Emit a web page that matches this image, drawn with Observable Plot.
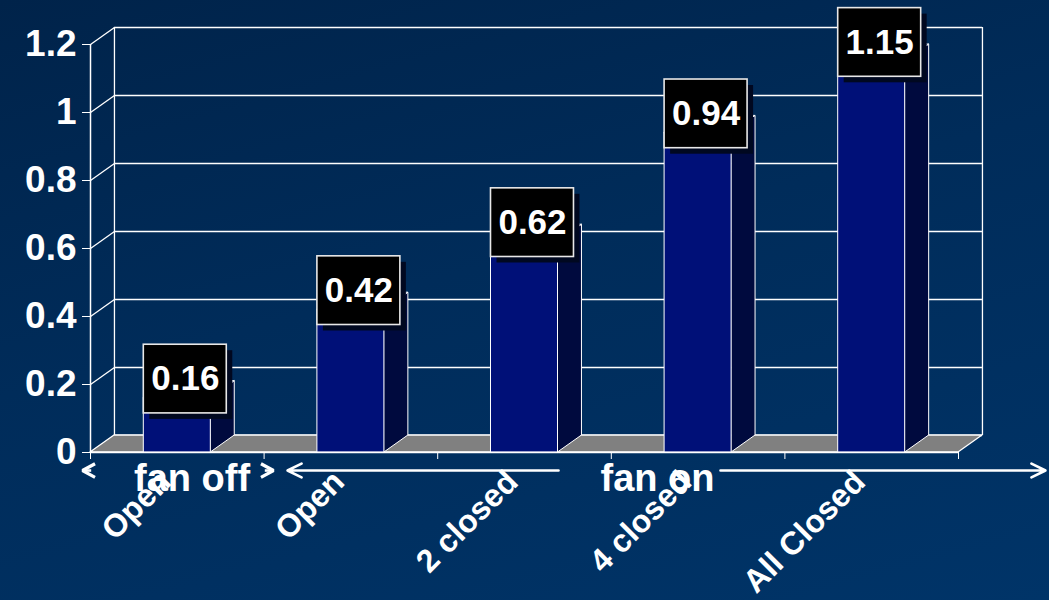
<!DOCTYPE html>
<html>
<head>
<meta charset="utf-8">
<script src="https://cdn.jsdelivr.net/npm/d3@7"></script>
<script src="https://cdn.jsdelivr.net/npm/@observablehq/plot@0.6"></script>
<style>
  html, body { margin: 0; padding: 0; }
  body {
    width: 1049px; height: 600px; overflow: hidden;
    background: linear-gradient(165deg, #00234a 0%, #002c5a 45%, #003468 100%);
    font-family: "Liberation Sans", Arial, sans-serif;
  }
</style>
</head>
<body>
<div id="chart"></div>
<script>
// Air flow measurements: fan off vs. fan on with vents progressively closed
const categories = ["Open", "Open", "2 closed", "4 closed", "All Closed"];
const values = [0.16, 0.42, 0.62, 0.94, 1.15];
const yTicks = [0, 0.2, 0.4, 0.6, 0.8, 1, 1.2];
const groupLabels = ["fan off", "fan on"];

// 3D extrusion, expressed in data units (one category = 1 on x)
const DEPTH_X = 0.138;
const DEPTH_Y = 0.05;
const HALF = 0.193;           // half bar width
const N = categories.length;

const bars = categories.map((c, i) => ({i, category: c, value: values[i], cx: i + 0.5}));

const sidePts = bars.flatMap(b => [
  {i: b.i, x: b.cx + HALF, y1: 0, y2: b.value},
  {i: b.i, x: b.cx + HALF + DEPTH_X, y1: DEPTH_Y, y2: b.value + DEPTH_Y}
]);
const topPts = bars.flatMap(b => [
  {i: b.i, y: b.value, x1: b.cx - HALF, x2: b.cx + HALF},
  {i: b.i, y: b.value + DEPTH_Y, x1: b.cx - HALF + DEPTH_X, x2: b.cx + HALF + DEPTH_X}
]);
const floorPts = [
  {y: 0, x1: 0, x2: N},
  {y: DEPTH_Y, x1: DEPTH_X, x2: N + DEPTH_X}
];

// value call-outs sit just above the bar tops
const LABEL_DX = 0.046, LABEL_DY = 0.056, BOX_HW = 0.239, BOX_HH = 0.101;
const boxes = bars.map(b => ({
  ...b,
  bx: b.cx + LABEL_DX, by: b.value + LABEL_DY
}));

// grouping markers under the axis: short arrowheads around "fan off",
// a two-part arrow around "fan on"
const ARROW_Y = -0.053;
const CHEV_W = 0.072, CHEV_H = 0.02, STEM = 0.05;
const chevrons = [
  {id: "a", tip: -0.046, dir: 1},
  {id: "b", tip: 1.054, dir: -1}
];
const chevronPts = chevrons.flatMap(c => [
  {id: c.id, x: c.tip + c.dir * CHEV_W, y: ARROW_Y + CHEV_H},
  {id: c.id, x: c.tip, y: ARROW_Y},
  {id: c.id, x: c.tip + c.dir * CHEV_W, y: ARROW_Y - CHEV_H}
]);
const fanOnArrows = [
  {x1: 2.696, x2: 1.135},
  {x1: 3.629, x2: 5.501}
];
const groups = [
  {label: groupLabels[0], x: 0.585},
  {label: groupLabels[1], x: 3.266}
];

const white = "#ffffff";

const chart = Plot.plot({
  width: 1049,
  height: 600,
  marginLeft: 90,
  marginRight: 91,
  marginTop: 44,
  marginBottom: 148,
  style: {background: "transparent", color: white, fontFamily: "'Liberation Sans', Arial, sans-serif", fontWeight: "bold", overflow: "visible"},
  x: {type: "linear", domain: [0, N], axis: null},
  y: {domain: [0, 1.2], axis: null},
  marks: [
    // back wall grid
    Plot.ruleY(yTicks, {y: d => d + DEPTH_Y, x1: DEPTH_X, x2: N + DEPTH_X, stroke: white, strokeWidth: 1.3}),
    Plot.ruleX([DEPTH_X, N + DEPTH_X], {x: d => d, y1: DEPTH_Y, y2: 1.2 + DEPTH_Y, stroke: white, strokeWidth: 1.3}),
    // left wall grid
    Plot.link(yTicks, {x1: 0, y1: d => d, x2: DEPTH_X, y2: d => d + DEPTH_Y, stroke: white, strokeWidth: 1.3}),
    Plot.ruleX([0], {y1: 0, y2: 1.2, stroke: white, strokeWidth: 1.5}),
    // floor
    Plot.areaX(floorPts, {y: "y", x1: "x1", x2: "x2", fill: "#808080", stroke: white, strokeWidth: 1.3}),
    // bars
    Plot.areaY(sidePts, {x: "x", y1: "y1", y2: "y2", z: "i", fill: "#000a3e", stroke: white, strokeWidth: 1}),
    Plot.rect(bars, {x1: d => d.cx - HALF, x2: d => d.cx + HALF, y1: 0, y2: "value", fill: "#001078", stroke: white, strokeWidth: 1}),
    Plot.areaX(topPts, {y: "y", x1: "x1", x2: "x2", z: "i", fill: "#1a2a96", stroke: white, strokeWidth: 1}),
    Plot.ruleY([0], {x1: 0, x2: N, stroke: white, strokeWidth: 1.5}),
    // axes
    Plot.axisY({ticks: yTicks, tickSize: 8, tickPadding: 6, tickFormat: d => String(d), fontSize: 37, fontWeight: "bold", stroke: white, fill: white, label: null}),
    Plot.axisX({ticks: d3.range(N + 1), tickSize: 7, tickFormat: () => "", stroke: white, label: null}),
    // value call-outs
    Plot.rect(boxes, {x1: d => d.bx - BOX_HW, x2: d => d.bx + BOX_HW, y1: d => d.by - BOX_HH, y2: d => d.by + BOX_HH, fill: "#000820", dx: 6, dy: 6}),
    Plot.rect(boxes, {x1: d => d.bx - BOX_HW, x2: d => d.bx + BOX_HW, y1: d => d.by - BOX_HH, y2: d => d.by + BOX_HH, fill: "#000000", stroke: "#e8e8e8", strokeWidth: 1.6}),
    Plot.text(boxes, {x: "bx", y: "by", text: d => String(d.value), fill: white, fontSize: 35, fontWeight: "bold"}),
    // category labels
    Plot.text(bars, {x: "cx", y: 0, text: "category", rotate: -45, textAnchor: "end", dx: -12, dy: 24, fill: white, fontSize: 32, fontWeight: "bold"}),
    // group markers and labels
    Plot.line(chevronPts, {x: "x", y: "y", z: "id", stroke: white, strokeWidth: 3.2, strokeLinejoin: "miter", strokeLinecap: "butt"}),
    Plot.link(chevrons, {x1: "tip", x2: d => d.tip + d.dir * STEM, y1: ARROW_Y, y2: ARROW_Y, stroke: white, strokeWidth: 2.6}),
    Plot.arrow(fanOnArrows, {x1: "x1", x2: "x2", y1: ARROW_Y, y2: ARROW_Y, stroke: white, strokeWidth: 2.6, headLength: 9, headAngle: 52}),
    Plot.text(groups, {x: "x", y: 0, text: "label", dy: 26, fill: white, fontSize: 38, fontWeight: "bold"})
  ]
});
document.getElementById("chart").appendChild(chart);
</script>
</body>
</html>
